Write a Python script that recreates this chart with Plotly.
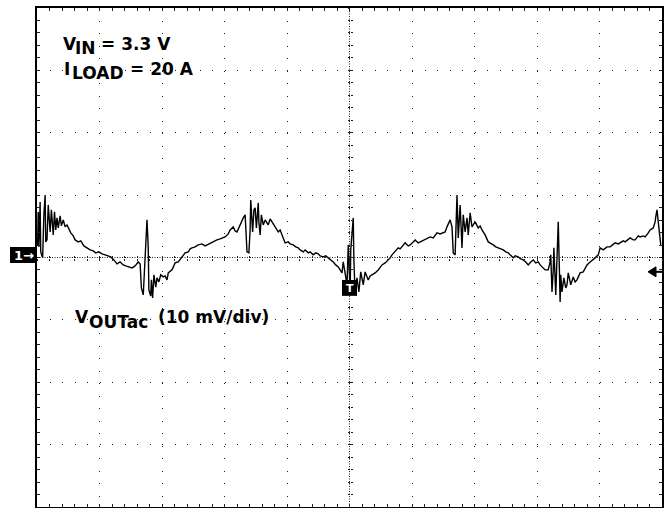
import plotly.graph_objects as go

# time in divisions (10 div across), output ripple in mV (10 mV/div)
t_div = [
    0.01, 0.02, 0.03, 0.05, 0.06, 0.09, 0.11, 0.13, 0.14, 0.16, 0.18, 0.21, 0.23, 0.26, 0.28, 0.30,
    0.32, 0.34, 0.37, 0.39, 0.42, 0.45, 0.48, 0.51, 0.54, 0.58, 0.61, 0.66, 0.70, 0.75, 0.80, 0.85,
    0.90, 0.94, 0.99, 1.04, 1.09, 1.14, 1.18, 1.23, 1.28, 1.33, 1.38, 1.42, 1.47, 1.52, 1.57, 1.62,
    1.65, 1.67, 1.70, 1.72, 1.74, 1.76, 1.78, 1.79, 1.82, 1.83, 1.85, 1.87, 1.90, 1.92, 1.95, 1.98,
    2.02, 2.05, 2.08, 2.10, 2.16, 2.21, 2.26, 2.32, 2.37, 2.42, 2.45, 2.48, 2.53, 2.58, 2.64, 2.69,
    2.72, 2.77, 2.80, 2.85, 2.88, 2.93, 2.96, 3.01, 3.06, 3.09, 3.14, 3.17, 3.20, 3.25, 3.30, 3.33,
    3.34, 3.36, 3.39, 3.41, 3.42, 3.45, 3.47, 3.49, 3.51, 3.54, 3.55, 3.57, 3.59, 3.62, 3.65, 3.70,
    3.73, 3.76, 3.81, 3.86, 3.89, 3.92, 3.97, 4.02, 4.05, 4.10, 4.14, 4.18, 4.21, 4.26, 4.29, 4.34,
    4.37, 4.42, 4.46, 4.50, 4.53, 4.58, 4.62, 4.66, 4.70, 4.74, 4.78, 4.82, 4.85, 4.88, 4.90, 4.93,
    4.96, 4.98, 4.99, 5.01, 5.02, 5.04, 5.06, 5.07, 5.09, 5.12, 5.15, 5.18, 5.22, 5.25, 5.30, 5.33,
    5.36, 5.41, 5.46, 5.49, 5.52, 5.57, 5.62, 5.65, 5.68, 5.73, 5.78, 5.81, 5.84, 5.89, 5.94, 5.97,
    6.02, 6.05, 6.10, 6.13, 6.18, 6.21, 6.26, 6.29, 6.34, 6.37, 6.40, 6.45, 6.48, 6.53, 6.56, 6.61,
    6.64, 6.66, 6.69, 6.70, 6.72, 6.74, 6.77, 6.80, 6.82, 6.85, 6.88, 6.90, 6.93, 6.96, 7.01, 7.06,
    7.09, 7.12, 7.17, 7.22, 7.25, 7.30, 7.34, 7.38, 7.41, 7.46, 7.50, 7.54, 7.57, 7.62, 7.65, 7.70,
    7.74, 7.78, 7.82, 7.86, 7.90, 7.94, 7.98, 8.02, 8.05, 8.08, 8.13, 8.18, 8.21, 8.22, 8.24, 8.26,
    8.27, 8.30, 8.32, 8.34, 8.37, 8.38, 8.40, 8.43, 8.46, 8.48, 8.50, 8.53, 8.54, 8.58, 8.61, 8.64,
    8.69, 8.74, 8.77, 8.80, 8.85, 8.90, 8.93, 8.98, 9.01, 9.06, 9.09, 9.12, 9.17, 9.22, 9.25, 9.30,
    9.33, 9.38, 9.41, 9.46, 9.49, 9.54, 9.57, 9.62, 9.65, 9.70, 9.73, 9.78, 9.81, 9.86, 9.89, 9.90,
    9.92, 9.94, 9.95, 9.97, 9.98,
]
v_mv = [
    2.02, 7.31, 1.70, 8.91, 0.90, -0.06, 6.83, 10.03, 2.50, 2.82, 8.43, 4.10, 7.63, 3.62, 7.31, 4.42,
    6.35, 4.74, 6.67, 5.07, 6.03, 4.91, 5.23, 4.42, 3.94, 3.46, 2.82, 2.50, 2.66, 1.86, 1.54, 1.22,
    1.06, 0.74, 0.90, 0.58, 0.42, 0.26, 0.10, -0.38, -1.03, -0.71, -1.19, -1.35, -1.51, -1.67, -1.35, -0.71,
    -1.03, -4.87, -6.00, -1.99, 2.82, 6.03, 1.54, -5.19, -6.16, -3.59, -6.48, -2.78, -4.74, -3.27, -3.91, -2.78,
    -3.11, -2.95, -3.59, -2.47, -1.99, -0.87, -0.71, 0.10, 0.74, 0.90, 1.38, 1.54, 1.70, 2.02, 2.18, 1.86,
    2.02, 2.34, 2.50, 2.66, 2.82, 2.98, 3.14, 3.30, 3.78, 4.42, 4.91, 4.26, 4.10, 5.39, 6.35, 6.83,
    3.62, 0.90, 0.74, 4.42, 9.23, 4.10, 7.63, 7.95, 4.74, 8.75, 5.71, 3.62, 6.83, 5.23, 6.03, 5.23,
    6.19, 5.71, 4.91, 4.10, 4.42, 3.62, 2.34, 2.50, 2.18, 2.02, 1.70, 1.54, 1.22, 0.90, 1.22, 0.74,
    0.90, 0.42, 0.74, 0.58, 0.26, 0.10, 0.26, -0.06, -0.38, -0.71, -1.19, -1.51, -1.99, -2.47, -0.71, -2.78,
    -4.39, 2.02, -1.99, -5.51, 1.22, 4.74, 6.35, -0.38, -6.00, -3.27, -5.51, -2.31, -4.39, -2.31, -3.59, -2.95,
    -2.78, -2.47, -1.99, -1.67, -1.19, -0.87, -0.38, -0.06, 0.42, 0.90, 1.54, 1.38, 1.70, 2.34, 1.86, 2.02,
    2.50, 2.82, 2.34, 2.50, 2.66, 2.82, 3.14, 3.30, 3.14, 3.46, 3.94, 3.78, 3.94, 4.10, 4.91, 6.03,
    4.91, 0.74, 0.42, 4.42, 10.03, 3.14, 8.43, 1.54, 6.83, 4.10, 6.35, 3.62, 7.15, 4.91, 5.71, 4.74,
    5.07, 4.42, 3.62, 2.50, 2.34, 2.02, 1.70, 1.54, 1.38, 1.22, 0.90, 0.74, 0.42, -0.06, 0.26, 0.10,
    -0.22, -0.38, -0.71, -1.19, -0.71, -0.38, -0.87, -0.71, -1.19, -1.51, -1.99, -1.99, -0.71, 0.42, -5.51, -1.99,
    1.54, -6.00, 0.42, 5.71, -7.12, -2.78, -5.51, -3.27, -4.87, -4.39, -2.47, -3.91, -4.39, -3.11, -3.91, -3.59,
    -2.47, -2.31, -1.67, -1.19, -0.71, -0.38, -0.06, 0.42, 1.54, 1.22, 1.54, 1.70, 1.70, 2.02, 2.34, 2.18,
    2.34, 2.66, 2.50, 2.98, 3.14, 2.82, 2.82, 3.46, 3.30, 3.46, 3.30, 3.94, 4.42, 4.74, 5.71, 6.51,
    7.63, 5.71, 4.74, 3.14, 2.02,
]

# labels: (text, x in div, y in mV) - main text and lowered subscript drawn at full size
label_parts = [
    ("V", 0.39, 34.3), ("IN", 0.58, 33.6), ("= 3.3 V", 0.99, 34.3),
    ("I", 0.40, 30.3), ("LOAD", 0.53, 29.6), ("= 20 A", 1.45, 30.3),
    ("V", 0.57, -9.6), ("OUTac", 0.80, -10.3), ("(10 mV/div)", 1.90, -9.6),
]
trig_time = 5.0        # trigger position (div)
trig_level = -2.3      # trigger level (mV)

x_range = [0, 10]      # 10 horizontal divisions
y_range = [-40, 40]    # 8 vertical divisions of 10 mV
grid_col = "#222222"
font_fam = "DejaVu Sans, Verdana, sans-serif"

fig = go.Figure()
fig.add_trace(go.Scatter(x=t_div, y=v_mv, mode="lines",
                         line=dict(color="black", width=1.4), showlegend=False, hoverinfo="skip"))

# dummy traces so the centre tick axes get drawn
for xa, ya in [("x2", "y"), ("x3", "y"), ("x", "y2"), ("x", "y3")]:
    fig.add_trace(go.Scatter(x=[None], y=[None], xaxis=xa, yaxis=ya, showlegend=False))

edge = dict(showline=True, linecolor="black", linewidth=2, mirror="allticks",
            ticks="inside", ticklen=3, tickcolor=grid_col, showticklabels=False,
            showgrid=True, gridcolor=grid_col, gridwidth=1, griddash="1px,11.5px",
            zeroline=False, fixedrange=True, automargin=False,
            minor=dict(ticks="inside", ticklen=3, tickcolor=grid_col, showgrid=False))
fig.update_layout(
    xaxis=dict(range=x_range, dtick=1, minor_dtick=0.2, **edge),
    yaxis=dict(range=y_range, dtick=10, minor_dtick=2, **edge),
)

centre = dict(showline=False, showgrid=False, zeroline=False, showticklabels=False,
              anchor="free", position=0.5, ticklen=2, tickcolor=grid_col, automargin=False)
fig.update_layout(
    xaxis2=dict(overlaying="x", range=x_range, dtick=0.2, ticks="inside", **centre),
    xaxis3=dict(overlaying="x", range=x_range, dtick=0.2, ticks="outside", **centre),
    yaxis2=dict(overlaying="y", range=y_range, dtick=2, ticks="inside", **centre),
    yaxis3=dict(overlaying="y", range=y_range, dtick=2, ticks="outside", **centre),
)

# centre crosshair (denser dots)
fig.add_shape(type="line", xref="x", yref="y", x0=x_range[0], x1=x_range[1], y0=0, y1=0,
              line=dict(color=grid_col, width=1, dash="1px,1.5px"))
fig.add_shape(type="line", xref="x", yref="y", x0=trig_time, x1=trig_time, y0=y_range[0], y1=y_range[1],
              line=dict(color=grid_col, width=1, dash="1px,1.5px"))

for txt, lx, ly in label_parts:
    fig.add_annotation(x=lx, y=ly, text=f"<b>{txt}</b>", showarrow=False,
                       xanchor="left", yanchor="middle",
                       font=dict(family=font_fam, size=17, color="black"))

# channel 1 ground marker
fig.add_shape(type="rect", xref="paper", yref="paper", x0=-0.0432, x1=0, y0=0.489, y1=0.521,
              fillcolor="black", line=dict(width=0))
fig.add_annotation(x=-0.0216, y=0.505, xref="paper", yref="paper", text="<b>1→</b>", showarrow=False,
                   xanchor="center", yanchor="middle",
                   font=dict(family=font_fam, size=13, color="white"))
# trigger position marker
fig.add_shape(type="rect", xref="x", yref="y", x0=trig_time - 0.12, x1=trig_time + 0.12,
              y0=-6.15, y1=-3.6, fillcolor="black", line=dict(width=0))
fig.add_annotation(x=trig_time, y=-4.9, text="<b>T</b>", showarrow=False,
                   font=dict(family=font_fam, size=11, color="white"))
# trigger level arrow on the right edge
fig.add_shape(type="path", xref="x", yref="y",
              path=f"M 9.776,{trig_level} L 9.904,{trig_level + 0.8} L 9.904,{trig_level - 0.8} Z",
              fillcolor="black", line=dict(color="black", width=1))
fig.add_shape(type="line", xref="x", yref="y", x0=9.9, x1=10, y0=trig_level, y1=trig_level,
              line=dict(color="black", width=2))

fig.update_layout(
    width=670, height=508,
    margin=dict(l=37, r=8, t=8, b=1),
    plot_bgcolor="white", paper_bgcolor="white",
    font=dict(family=font_fam),
)

# page body has a default 8px margin; drop it so the figure fills the window
fig.write_html("out.html", config={"displayModeBar": False},
               post_script="document.body.style.margin='0';")
